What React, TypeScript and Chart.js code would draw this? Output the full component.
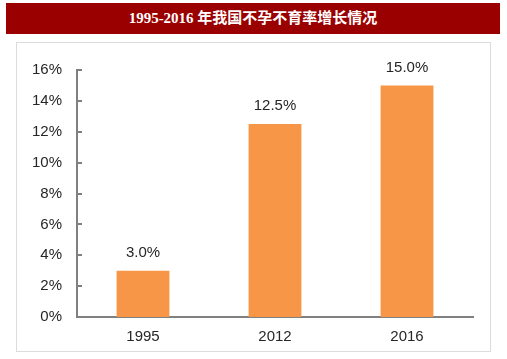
import React, { useEffect, useRef } from "react";
import { Chart, registerables } from "chart.js";

Chart.register(...registerables);

const title = "1995-2016 年我国不孕不育率增长情况";
const categories = ["1995", "2012", "2016"];
const rates = [3.0, 12.5, 15.0];
const yMin = 0;
const yMax = 16;
const yStep = 2;

const AXIS_COLOR = "#808080";
const TEXT_COLOR = "#262626";
const BAR_COLOR = "#F79646";
const FONT = "'Liberation Sans', Arial, sans-serif";

const innerTicks = {
  id: "innerTicks",
  afterDraw(chart: any) {
    const y = chart.scales.y;
    const ctx = chart.ctx;
    ctx.save();
    ctx.strokeStyle = AXIS_COLOR;
    ctx.lineWidth = 2;
    y.ticks.forEach((t: any) => {
      const py = Math.round(y.getPixelForValue(t.value));
      ctx.beginPath();
      ctx.moveTo(chart.chartArea.left, py);
      ctx.lineTo(chart.chartArea.left + 5, py);
      ctx.stroke();
    });
    ctx.restore();
  },
};

const valueLabels = {
  id: "valueLabels",
  afterDatasetsDraw(chart: any) {
    const ctx = chart.ctx;
    const meta = chart.getDatasetMeta(0);
    ctx.save();
    ctx.font = `15px ${FONT}`;
    ctx.fillStyle = TEXT_COLOR;
    ctx.textAlign = "center";
    ctx.textBaseline = "middle";
    meta.data.forEach((el: any, i: number) => {
      ctx.fillText(rates[i].toFixed(1) + "%", el.x, el.y - 18);
    });
    ctx.restore();
  },
};

export default function App() {
  const ref = useRef<HTMLCanvasElement>(null);

  useEffect(() => {
    if (!ref.current) return;
    const chart = new Chart(ref.current, {
      type: "bar",
      data: {
        labels: categories,
        datasets: [
          {
            data: rates,
            backgroundColor: BAR_COLOR,
            barPercentage: 0.4,
            categoryPercentage: 1,
          },
        ],
      },
      options: {
        responsive: false,
        animation: false,
        devicePixelRatio: 1,
        layout: { padding: { left: 0, top: 70, right: 34, bottom: 0 } },
        plugins: {
          legend: { display: false },
          tooltip: { enabled: false },
          title: { display: false },
        },
        scales: {
          x: {
            grid: { display: false, drawTicks: false },
            border: { display: true, color: AXIS_COLOR, width: 2 },
            ticks: {
              color: TEXT_COLOR,
              font: { size: 15, family: FONT },
              padding: 11,
            },
            afterFit(scale: any) {
              scale.height = 42;
            },
          },
          y: {
            min: yMin,
            max: yMax,
            grid: { display: false, drawTicks: false },
            border: { display: true, color: AXIS_COLOR, width: 2 },
            ticks: {
              stepSize: yStep,
              color: TEXT_COLOR,
              font: { size: 15, family: FONT },
              padding: 15,
              callback: (v: any) => v + "%",
            },
            afterFit(scale: any) {
              scale.width = 77;
            },
          },
        },
      },
      plugins: [innerTicks, valueLabels],
    });
    return () => chart.destroy();
  }, []);

  return (
    <div
      style={{
        position: "absolute",
        left: 0,
        top: 0,
        width: 507,
        height: 359,
        background: "#fff",
        overflow: "hidden",
      }}
    >
      <div
        style={{
          position: "absolute",
          left: 6,
          top: 3,
          width: 494,
          height: 31,
          background: "#9B0000",
          color: "#fff",
          fontFamily: "'Liberation Serif', 'Noto Sans CJK SC', serif",
          fontWeight: "bold",
          fontSize: 15,
          lineHeight: "31px",
          textAlign: "center",
        }}
      >
        {title}
      </div>
      <div
        style={{
          position: "absolute",
          left: 16,
          top: 42,
          width: 473,
          height: 308,
          border: "1px solid #dcdcdc",
        }}
      />
      <canvas
        ref={ref}
        width={507}
        height={359}
        style={{ position: "absolute", left: 0, top: 0, width: 507, height: 359, display: "block" }}
      />
    </div>
  );
}
